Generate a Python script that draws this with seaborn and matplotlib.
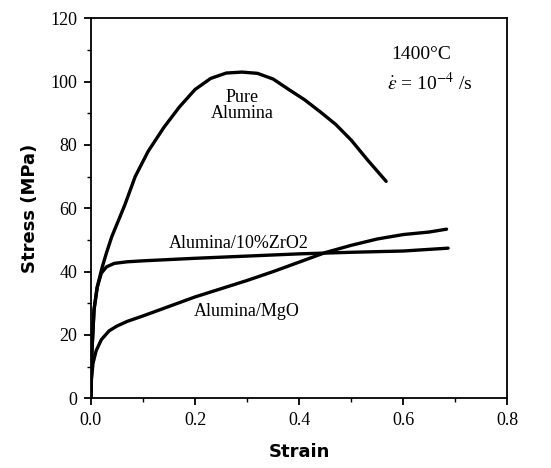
import matplotlib
matplotlib.use('Agg')
import matplotlib.pyplot as plt
import seaborn as sns
import pandas as pd
from matplotlib.ticker import MultipleLocator, FormatStrFormatter

# curves
pure_strain = [0, 0.002, 0.006, 0.012, 0.021, 0.03, 0.04, 0.05, 0.065, 0.085, 0.11, 0.14, 0.17, 0.2,
               0.23, 0.26, 0.29, 0.32, 0.35, 0.38, 0.41, 0.44, 0.47, 0.5, 0.53, 0.567]
pure_stress = [0, 15, 28, 35, 41, 46, 51, 55, 61, 70, 78, 85.5, 92, 97.5,
               101, 102.7, 103, 102.6, 100.8, 97.5, 94.3, 90.5, 86.5, 81.5, 75.5, 68.5]

zro2_strain = [0, 0.002, 0.006, 0.012, 0.02, 0.03, 0.045, 0.07, 0.1, 0.2, 0.3, 0.4, 0.5, 0.6, 0.686]
zro2_stress = [0, 15, 28, 35, 39.5, 41.5, 42.6, 43.1, 43.4, 44.2, 44.9, 45.6, 46.1, 46.5, 47.4]

mgo_strain = [0, 0.001, 0.004, 0.01, 0.02, 0.035, 0.05, 0.07, 0.1, 0.15, 0.2, 0.25, 0.3, 0.35,
              0.4, 0.45, 0.5, 0.55, 0.6, 0.65, 0.683]
mgo_stress = [0, 6, 11, 15, 18.5, 21.3, 22.8, 24.3, 26, 29, 32, 34.6, 37.2, 40,
              43, 46, 48.3, 50.3, 51.7, 52.5, 53.4]

sns.set_style('ticks')
plt.rcParams['font.family'] = ['Liberation Serif', 'DejaVu Serif']
plt.rcParams['mathtext.fontset'] = 'stix'
plt.rcParams['text.color'] = 'black'
plt.rcParams['axes.labelcolor'] = 'black'

fig = plt.figure(figsize=(5.51, 4.68), dpi=100)
ax = fig.add_axes([0.165, 0.149, 0.756, 0.812])

for xs, ys in [(pure_strain, pure_stress), (zro2_strain, zro2_stress), (mgo_strain, mgo_stress)]:
    df = pd.DataFrame({'strain': xs, 'stress': ys})
    sns.lineplot(data=df, x='strain', y='stress', sort=False, color='black', lw=2.4, ax=ax)

ax.set_xlim(0, 0.8)
ax.set_ylim(0, 120)
ax.xaxis.set_major_locator(MultipleLocator(0.2))
ax.xaxis.set_minor_locator(MultipleLocator(0.1))
ax.xaxis.set_major_formatter(FormatStrFormatter('%.1f'))
ax.yaxis.set_major_locator(MultipleLocator(20))
ax.yaxis.set_minor_locator(MultipleLocator(10))
ax.tick_params(which='major', direction='out', length=5, width=1.3, labelsize=13,
               colors='black', pad=5)
ax.tick_params(which='minor', direction='out', length=3, width=1.0, colors='black')
for s in ax.spines.values():
    s.set_linewidth(1.3)
    s.set_color('black')

ax.set_xlabel('Strain', fontsize=13, fontweight='bold', family='DejaVu Sans', labelpad=10)
ax.set_ylabel('Stress (MPa)', fontsize=13, fontweight='bold', family='DejaVu Sans', labelpad=8)

ax.text(0.29, 92.5, 'Pure\nAlumina', ha='center', va='center', fontsize=13, linespacing=0.95)
ax.text(0.283, 49, 'Alumina/10%ZrO2', ha='center', va='center', fontsize=13)
ax.text(0.30, 27.4, 'Alumina/MgO', ha='center', va='center', fontsize=13)
ax.text(0.635, 108.4, '1400°C', ha='center', va='center', fontsize=14)
ax.text(0.651, 99.5, r'$\dot{\varepsilon}$ = 10$^{-4}$ /s', ha='center', va='center', fontsize=14)

fig.savefig('out.png', dpi=100)
